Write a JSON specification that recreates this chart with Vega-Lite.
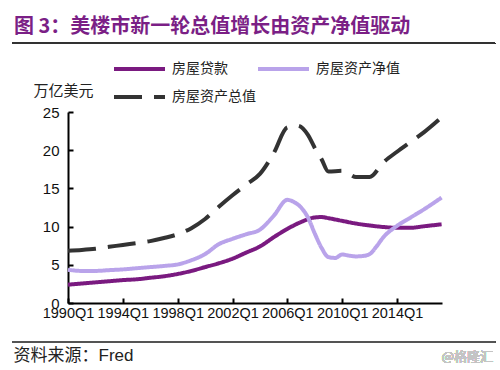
{
  "$schema": "https://vega.github.io/schema/vega-lite/v6.json",
  "autosize": "none",
  "width": 374,
  "height": 191,
  "padding": {"left": 68, "top": 112, "right": 58, "bottom": 67},
  "background": "white",
  "config": {
    "view": {"stroke": null},
    "font": "Liberation Sans, Noto Sans CJK SC",
    "axis": {"grid": false, "labelOverlap": false, "labelFlush": false, "labelBound": false,
      "domainColor": "#000", "domainWidth": 2, "tickColor": "#000", "tickWidth": 2, "tickSize": -5,
      "labelColor": "#111", "titleFontWeight": "normal", "titleColor": "#222"},
    "axisX": {"labelFontSize": 14.5, "labelPadding": 8},
    "axisY": {"labelFontSize": 15, "labelPadding": 14}
  },
  "title": {
    "text": "图 3：美楼市新一轮总值增长由资产净值驱动",
    "anchor": "start",
    "frame": "group",
    "dx": -54,
    "offset": -11,
    "baseline": "alphabetic",
    "font": "Noto Sans CJK SC",
    "fontSize": 20,
    "fontWeight": "bold",
    "color": "#7b1f86"
  },
  "resolve": {"axis": {"x": "independent", "y": "independent"}},
  "data": {"values": [
    {"t": 1990, "s": "房屋贷款", "v": 2.4}, {"t": 1991, "s": "房屋贷款", "v": 2.55}, {"t": 1992, "s": "房屋贷款", "v": 2.7}, {"t": 1993, "s": "房屋贷款", "v": 2.85}, {"t": 1994, "s": "房屋贷款", "v": 3.0}, {"t": 1995, "s": "房屋贷款", "v": 3.1}, {"t": 1996, "s": "房屋贷款", "v": 3.3}, {"t": 1997, "s": "房屋贷款", "v": 3.5}, {"t": 1998, "s": "房屋贷款", "v": 3.8}, {"t": 1999, "s": "房屋贷款", "v": 4.2}, {"t": 2000, "s": "房屋贷款", "v": 4.7}, {"t": 2001, "s": "房屋贷款", "v": 5.2}, {"t": 2002, "s": "房屋贷款", "v": 5.8}, {"t": 2003, "s": "房屋贷款", "v": 6.6}, {"t": 2004, "s": "房屋贷款", "v": 7.4}, {"t": 2005, "s": "房屋贷款", "v": 8.6}, {"t": 2006, "s": "房屋贷款", "v": 9.7}, {"t": 2007, "s": "房屋贷款", "v": 10.6}, {"t": 2008, "s": "房屋贷款", "v": 11.2}, {"t": 2008.5, "s": "房屋贷款", "v": 11.25}, {"t": 2009, "s": "房屋贷款", "v": 11.1}, {"t": 2010, "s": "房屋贷款", "v": 10.75}, {"t": 2011, "s": "房屋贷款", "v": 10.4}, {"t": 2012, "s": "房屋贷款", "v": 10.15}, {"t": 2013, "s": "房屋贷款", "v": 9.95}, {"t": 2014, "s": "房屋贷款", "v": 9.85}, {"t": 2015, "s": "房屋贷款", "v": 9.85}, {"t": 2016, "s": "房屋贷款", "v": 10.05}, {"t": 2017.25, "s": "房屋贷款", "v": 10.3},
    {"t": 1990, "s": "房屋资产净值", "v": 4.35}, {"t": 1991, "s": "房屋资产净值", "v": 4.2}, {"t": 1992, "s": "房屋资产净值", "v": 4.2}, {"t": 1993, "s": "房屋资产净值", "v": 4.3}, {"t": 1994, "s": "房屋资产净值", "v": 4.4}, {"t": 1995, "s": "房屋资产净值", "v": 4.55}, {"t": 1996, "s": "房屋资产净值", "v": 4.7}, {"t": 1997, "s": "房屋资产净值", "v": 4.85}, {"t": 1998, "s": "房屋资产净值", "v": 5.05}, {"t": 1999, "s": "房屋资产净值", "v": 5.6}, {"t": 2000, "s": "房屋资产净值", "v": 6.4}, {"t": 2001, "s": "房屋资产净值", "v": 7.7}, {"t": 2002, "s": "房屋资产净值", "v": 8.4}, {"t": 2003, "s": "房屋资产净值", "v": 9.0}, {"t": 2004, "s": "房屋资产净值", "v": 9.6}, {"t": 2005, "s": "房屋资产净值", "v": 11.4}, {"t": 2006, "s": "房屋资产净值", "v": 13.5}, {"t": 2006.5, "s": "房屋资产净值", "v": 13.2}, {"t": 2007, "s": "房屋资产净值", "v": 12.5}, {"t": 2007.5, "s": "房屋资产净值", "v": 11.2}, {"t": 2008, "s": "房屋资产净值", "v": 9.1}, {"t": 2008.5, "s": "房屋资产净值", "v": 7.2}, {"t": 2009, "s": "房屋资产净值", "v": 6.0}, {"t": 2009.5, "s": "房屋资产净值", "v": 5.9}, {"t": 2010, "s": "房屋资产净值", "v": 6.35}, {"t": 2010.5, "s": "房屋资产净值", "v": 6.2}, {"t": 2011, "s": "房屋资产净值", "v": 6.1}, {"t": 2011.5, "s": "房屋资产净值", "v": 6.15}, {"t": 2012, "s": "房屋资产净值", "v": 6.4}, {"t": 2012.5, "s": "房屋资产净值", "v": 7.4}, {"t": 2013, "s": "房屋资产净值", "v": 8.6}, {"t": 2014, "s": "房屋资产净值", "v": 10.1}, {"t": 2015, "s": "房屋资产净值", "v": 11.2}, {"t": 2016, "s": "房屋资产净值", "v": 12.3}, {"t": 2017.25, "s": "房屋资产净值", "v": 13.8},
    {"t": 1990, "s": "房屋资产总值", "v": 6.85}, {"t": 1991, "s": "房屋资产总值", "v": 6.95}, {"t": 1992, "s": "房屋资产总值", "v": 7.1}, {"t": 1993, "s": "房屋资产总值", "v": 7.35}, {"t": 1994, "s": "房屋资产总值", "v": 7.6}, {"t": 1995, "s": "房屋资产总值", "v": 7.85}, {"t": 1996, "s": "房屋资产总值", "v": 8.1}, {"t": 1997, "s": "房屋资产总值", "v": 8.5}, {"t": 1998, "s": "房屋资产总值", "v": 9.0}, {"t": 1999, "s": "房屋资产总值", "v": 9.8}, {"t": 2000, "s": "房屋资产总值", "v": 11.0}, {"t": 2001, "s": "房屋资产总值", "v": 12.6}, {"t": 2002, "s": "房屋资产总值", "v": 14.1}, {"t": 2003, "s": "房屋资产总值", "v": 15.5}, {"t": 2004, "s": "房屋资产总值", "v": 16.9}, {"t": 2005, "s": "房屋资产总值", "v": 19.6}, {"t": 2006, "s": "房屋资产总值", "v": 23.0}, {"t": 2006.75, "s": "房屋资产总值", "v": 23.2}, {"t": 2007.5, "s": "房屋资产总值", "v": 22.0}, {"t": 2008, "s": "房屋资产总值", "v": 20.3}, {"t": 2008.5, "s": "房屋资产总值", "v": 18.8}, {"t": 2009, "s": "房屋资产总值", "v": 17.2}, {"t": 2010, "s": "房屋资产总值", "v": 17.3}, {"t": 2010.5, "s": "房屋资产总值", "v": 16.9}, {"t": 2011, "s": "房屋资产总值", "v": 16.5}, {"t": 2012, "s": "房屋资产总值", "v": 16.5}, {"t": 2013, "s": "房屋资产总值", "v": 18.4}, {"t": 2014, "s": "房屋资产总值", "v": 19.8}, {"t": 2015, "s": "房屋资产总值", "v": 21.1}, {"t": 2016, "s": "房屋资产总值", "v": 22.4}, {"t": 2017.25, "s": "房屋资产总值", "v": 24.3}
  ]},
  "layer": [
    {
      "mark": {"type": "line", "strokeWidth": 4, "interpolate": "monotone"},
      "encoding": {
        "x": {"field": "t", "type": "quantitative",
          "scale": {"domain": [1990, 2017.28], "nice": false, "zero": false},
          "axis": {"values": [1990, 1994, 1998, 2002, 2006, 2010, 2014],
            "labelExpr": "datum.value + 'Q1'",
            "title": "资料来源：Fred", "titleFontSize": 17,
            "titleAnchor": "start", "titleAlign": "left", "titleX": -55, "titleY": 57, "titleBaseline": "alphabetic"}},
        "y": {"field": "v", "type": "quantitative",
          "scale": {"domain": [0, 25], "nice": false, "zero": false},
          "axis": {"values": [0, 5, 10, 15, 20, 25],
            "title": "万亿美元", "titleAngle": 0, "titleAlign": "left", "titleBaseline": "middle", "titleX": -35, "titleY": -22,
            "titleFontSize": 15}},
        "color": {"field": "s", "type": "nominal",
          "scale": {"domain": ["房屋贷款", "房屋资产净值", "房屋资产总值"], "range": ["#7a1a80", "#b9a3ea", "#333333"]},
          "legend": {"title": null, "orient": "none", "direction": "horizontal", "legendX": 44, "legendY": -50, "columns": 2, "columnPadding": -10, "rowPadding": 14, "clipHeight": 14,
            "symbolType": "stroke", "symbolSize": 2601, "symbolStrokeWidth": 4, "labelFontSize": 14, "labelColor": "#222", "labelOffset": 5, "labelFont": "Noto Sans CJK SC"}},
        "strokeDash": {"field": "s", "type": "nominal",
          "scale": {"domain": ["房屋贷款", "房屋资产净值", "房屋资产总值"], "range": [[1, 0], [1, 0], [28, 12]]},
          "legend": {"title": null}}
      }
    },
    {
      "mark": {"type": "rule", "color": "#333", "strokeWidth": 1.5},
      "encoding": {"y": {"datum": 34.0, "axis": null}, "x": {"datum": 1985.92, "axis": null}, "x2": {"datum": 2021.15}}
    },
    {
      "mark": {"type": "rule", "color": "#555", "strokeWidth": 1.5},
      "encoding": {"y": {"datum": -5.1, "axis": null}, "x": {"datum": 1985.92, "axis": null}, "x2": {"datum": 2021.15}}
    },
    {
      "mark": {"type": "text", "text": "@格隆汇", "align": "right", "baseline": "middle", "fontSize": 13, "color": "#c4c4c4", "font": "Noto Sans CJK SC"},
      "encoding": {"y": {"datum": -7.1, "axis": null}, "x": {"datum": 2021.0, "axis": null}}
    }
  ]
}
